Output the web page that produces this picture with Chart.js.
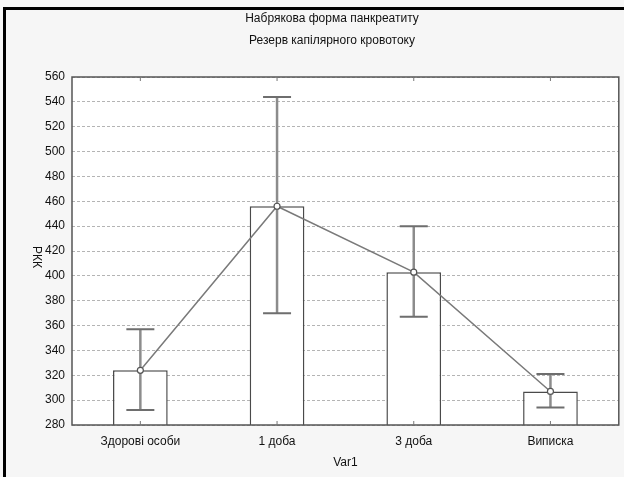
<!DOCTYPE html>
<html>
<head>
<meta charset="utf-8">
<script src="https://cdn.jsdelivr.net/npm/chart.js@4/dist/chart.umd.min.js"></script>
<style>
  html, body { margin: 0; padding: 0; background: #f6f6f6; }
  #wrap { width: 624px; height: 477px; position: relative; }
</style>
</head>
<body>
<div id="wrap"><canvas id="c" width="624" height="477"></canvas></div>
<script>
// Chart content
const titleLines = ['Набрякова форма панкреатиту', 'Резерв капілярного кровотоку'];
const categories = ['Здорові особи', '1 доба', '3 доба', 'Виписка'];
const means = [324, 456, 403, 307];
const lower = [292, 370, 367, 294];
const upper = [357, 544, 440, 321];
const yTicks = [280, 300, 320, 340, 360, 380, 400, 420, 440, 460, 480, 500, 520, 540, 560];
const xTitle = 'Var1';
const yTitle = 'РКК';

const FONT = '"Liberation Sans", Arial, sans-serif';

// Page frame, plot background, box, titles and whiskers
const decor = {
  id: 'decor',
  beforeDraw(chart) {
    const { ctx, chartArea: a } = chart;
    ctx.save();
    ctx.fillStyle = '#f6f6f6';
    ctx.fillRect(0, 0, chart.width, chart.height);
    ctx.fillStyle = '#000';
    ctx.fillRect(3, 7, 3, chart.height - 7);
    ctx.fillRect(3, 7, chart.width - 3, 3);
    ctx.fillStyle = '#fff';
    ctx.fillRect(a.left, a.top, a.right - a.left, a.bottom - a.top);
    ctx.restore();
  },
  afterDatasetDraw(chart, args) {
    if (args.index !== 0) return;
    const { ctx } = chart;
    const x = chart.scales.x, y = chart.scales.y;
    ctx.save();
    categories.forEach((c, i) => {
      const px = x.getPixelForValue(i);
      const yl = y.getPixelForValue(lower[i]);
      const yu = y.getPixelForValue(upper[i]);
      ctx.strokeStyle = '#8c8c8c';
      ctx.lineWidth = 2.5;
      ctx.beginPath();
      ctx.moveTo(px, yl); ctx.lineTo(px, yu);
      ctx.stroke();
      ctx.strokeStyle = '#6e6e6e';
      ctx.lineWidth = 2;
      ctx.beginPath();
      ctx.moveTo(px - 14, yl); ctx.lineTo(px + 14, yl);
      ctx.moveTo(px - 14, yu); ctx.lineTo(px + 14, yu);
      ctx.stroke();
    });
    ctx.restore();
  },
  afterDraw(chart) {
    const { ctx, chartArea: a } = chart;
    const x = chart.scales.x;
    ctx.save();
    // plot box
    ctx.strokeStyle = '#555';
    ctx.lineWidth = 1.5;
    ctx.strokeRect(a.left, a.top, a.right - a.left, a.bottom - a.top);
    // inner category ticks
    ctx.lineWidth = 1;
    ctx.strokeStyle = '#777';
    categories.forEach((c, i) => {
      const px = x.getPixelForValue(i);
      ctx.beginPath();
      ctx.moveTo(px, a.bottom); ctx.lineTo(px, a.bottom - 4);
      ctx.moveTo(px, a.top); ctx.lineTo(px, a.top + 4);
      ctx.stroke();
    });
    // titles
    ctx.fillStyle = '#111';
    ctx.font = '12px ' + FONT;
    ctx.textAlign = 'center';
    ctx.textBaseline = 'middle';
    ctx.fillText(titleLines[0], 332, 19);
    ctx.fillText(titleLines[1], 332, 41);
    ctx.fillText(xTitle, (a.left + a.right) / 2, 463);
    // y title, rotated clockwise
    ctx.translate(36, (a.top + a.bottom) / 2 + 6);
    ctx.rotate(Math.PI / 2);
    ctx.fillText(yTitle, 0, 0);
    ctx.restore();
  }
};

new Chart(document.getElementById('c'), {
  type: 'bar',
  data: {
    labels: categories,
    datasets: [
      {
        type: 'bar',
        data: means,
        backgroundColor: '#ffffff',
        borderColor: '#4a4a4a',
        borderWidth: 1.5,
        borderSkipped: false,
        categoryPercentage: 1,
        barPercentage: 0.4,
        order: 2
      },
      {
        type: 'line',
        data: means,
        borderColor: '#7a7a7a',
        borderWidth: 1.5,
        pointRadius: 3,
        pointBackgroundColor: '#ffffff',
        pointBorderColor: '#555',
        pointBorderWidth: 1.2,
        tension: 0,
        order: 1
      }
    ]
  },
  options: {
    responsive: false,
    animation: false,
    layout: { padding: { left: 0, top: 77, right: 4, bottom: 0 } },
    plugins: { legend: { display: false }, tooltip: { enabled: false }, title: { display: false } },
    scales: {
      x: {
        grid: { display: false },
        border: { display: false },
        ticks: { color: '#111', font: { family: FONT, size: 12 }, padding: 1 },
        afterFit(s) { s.height = 52; }
      },
      y: {
        min: 280,
        max: 560,
        afterBuildTicks(s) { s.ticks = yTicks.map(v => ({ value: v })); },
        grid: { color: '#b4b4b4', lineWidth: 1, drawTicks: false },
        border: { display: false, dash: [3, 2] },
        ticks: { color: '#111', font: { family: FONT, size: 12 }, padding: 7 },
        afterFit(s) { s.width = 72; }
      }
    }
  },
  plugins: [decor]
});
</script>
</body>
</html>
